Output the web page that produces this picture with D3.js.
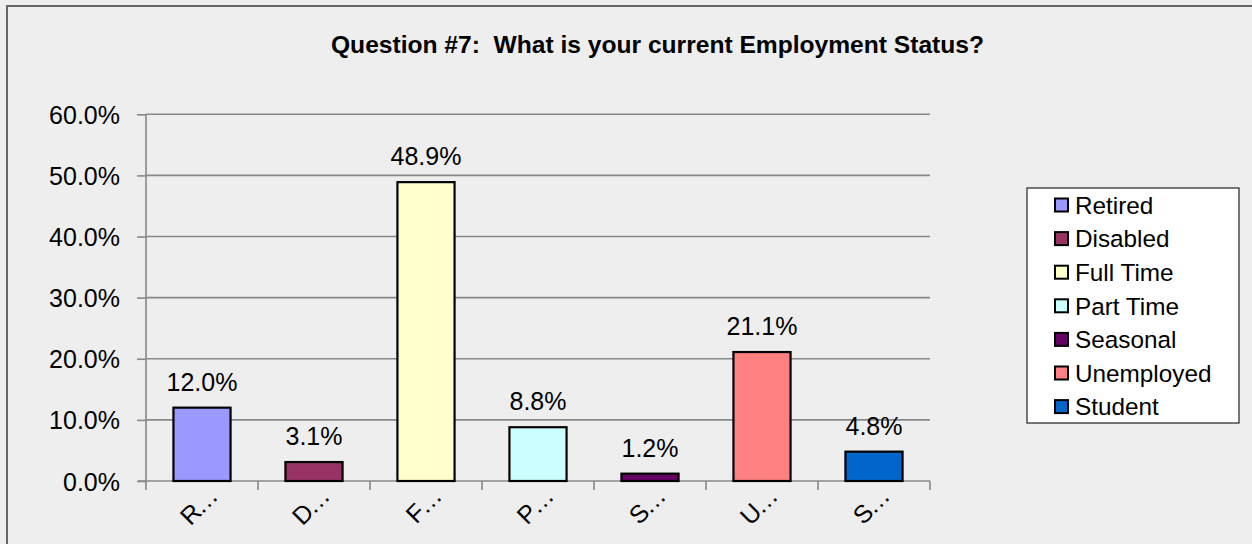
<!DOCTYPE html>
<html><head><meta charset="utf-8">
<script src="https://cdn.jsdelivr.net/npm/d3@7"></script>
<style>
html,body{margin:0;padding:0;background:#eeeeee;}
svg{display:block;}
text{font-family:"Liberation Sans",Arial,sans-serif;fill:#000;}
</style></head>
<body>
<svg id="chart" width="1252" height="544"></svg>
<script>
const categories = ["Retired","Disabled","Full Time","Part Time","Seasonal","Unemployed","Student"];
const shortLabels = ["R…","D…","F…","P…","S…","U…","S…"];
const values = [0.120,0.031,0.489,0.088,0.012,0.211,0.048];
const colors = ["#9999FF","#993366","#FFFFCC","#CCFFFF","#660066","#FF8080","#0066CC"];
const yTicks = [0,0.1,0.2,0.3,0.4,0.5,0.6];
const title = "Question #7:  What is your current Employment Status?";

const svg = d3.select("#chart");
svg.append("rect").attr("x",0).attr("y",0).attr("width",1252).attr("height",544).attr("fill","#eeeeee");
svg.append("rect").attr("x",7).attr("y",6).attr("width",1270).attr("height",570)
  .attr("fill","none").attr("stroke","#666").attr("stroke-width",2);

const x = d3.scaleBand().domain(categories).range([146,930]).paddingInner(0.49).paddingOuter(0.245);
const y = d3.scaleLinear().domain([0,0.6]).range([481,114.3]);
const fmt = d3.format(".1%");

// gridlines
svg.append("g").selectAll("line").data(yTicks.filter(d=>d>0)).join("line")
  .attr("x1",146).attr("x2",930).attr("y1",d=>y(d)).attr("y2",d=>y(d))
  .attr("stroke","#888").attr("stroke-width",1.6);

// y axis
const yAxis = svg.append("g").attr("transform","translate(146,0)")
  .call(d3.axisLeft(y).tickValues(yTicks).tickFormat(fmt).tickSize(9).tickPadding(17));
yAxis.select(".domain").attr("stroke","#888").attr("stroke-width",1.6).attr("d","M0,"+y(0.6)+"V"+y(0));
yAxis.selectAll(".tick line").attr("stroke","#888").attr("stroke-width",1.6);
yAxis.selectAll(".tick text").attr("font-size",25).attr("font-family","Liberation Sans, Arial, sans-serif").attr("fill","#000").attr("dy","0.36em");

// x axis
const xOuter = d3.scaleBand().domain(categories).range([146,930]);
const xg = svg.append("g");
xg.append("line").attr("x1",138).attr("x2",930).attr("y1",y(0)).attr("y2",y(0)).attr("stroke","#888").attr("stroke-width",1.6);
const edges = categories.map(c=>xOuter(c)).concat([930]);
xg.selectAll("line.t").data(edges).join("line").attr("class","t")
  .attr("x1",d=>d).attr("x2",d=>d).attr("y1",y(0)).attr("y2",y(0)+9)
  .attr("stroke","#888").attr("stroke-width",1.6);
xg.selectAll("text").data(categories).join("text")
  .attr("transform",c=>`translate(${xOuter(c)+xOuter.bandwidth()/2+16},${y(0)+18}) rotate(-45)`)
  .attr("text-anchor","end").attr("font-size",25).attr("letter-spacing","-2")
  .text((c,i)=>shortLabels[i]);

// bars
svg.append("g").selectAll("rect").data(values).join("rect")
  .attr("x",(d,i)=>x(categories[i])).attr("width",x.bandwidth())
  .attr("y",d=>y(d)).attr("height",d=>y(0)-y(d))
  .attr("fill",(d,i)=>colors[i]).attr("stroke","#000").attr("stroke-width",2.2);

// data labels
svg.append("g").selectAll("text").data(values).join("text")
  .attr("x",(d,i)=>x(categories[i])+x.bandwidth()/2).attr("y",d=>y(d)-17)
  .attr("text-anchor","middle").attr("font-size",25).text(d=>fmt(d));

// title
svg.append("text").attr("x",657.5).attr("y",53).attr("text-anchor","middle")
  .attr("font-size",24.5).attr("font-weight","bold").style("white-space","pre")
  .attr("textLength",653).attr("lengthAdjust","spacingAndGlyphs").text(title);

// legend
const lg = svg.append("g");
lg.append("rect").attr("x",1027).attr("y",188).attr("width",212).attr("height",235)
  .attr("fill","#fff").attr("stroke","#222").attr("stroke-width",1.2);
const rows = lg.selectAll("g").data(categories).join("g")
  .attr("transform",(c,i)=>`translate(1055,${205+i*33.6})`);
rows.append("rect").attr("x",0).attr("y",-6.5).attr("width",13).attr("height",13)
  .attr("fill",(c,i)=>colors[i]).attr("stroke","#000").attr("stroke-width",2);
rows.append("text").attr("x",20).attr("y",0).attr("dy","0.36em").attr("font-size",24.3).text(c=>c);
</script>
</body></html>
